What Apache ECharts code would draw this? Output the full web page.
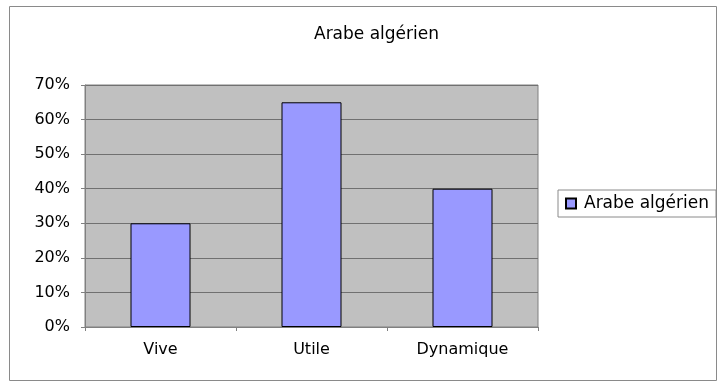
<!DOCTYPE html>
<html>
<head>
<meta charset="utf-8">
<script src="https://cdn.jsdelivr.net/npm/echarts@6/dist/echarts.min.js"></script>
<style>
  html, body { margin: 0; padding: 0; background: #fff; }
  #chart { width: 720px; height: 383px; }
</style>
</head>
<body>
<div id="chart"></div>
<script>
// Chart content
const chartTitle = 'Arabe algérien';
const seriesName = 'Arabe algérien';
const categories = ['Vive', 'Utile', 'Dynamique'];
const values = [0.30, 0.65, 0.40];
const yTicks = { min: 0, max: 0.7, interval: 0.1 };

const FONT = 'DejaVu Sans';
const chart = echarts.init(document.getElementById('chart'), null, { renderer: 'canvas' });

chart.setOption({
  backgroundColor: '#ffffff',
  animation: false,
  textStyle: { fontFamily: FONT, color: '#000' },
  title: {
    text: chartTitle,
    left: 309,
    top: 21,
    textStyle: { fontFamily: FONT, fontSize: 17, fontWeight: 'normal', color: '#000' }
  },
  graphic: [{
    type: 'rect',
    shape: { x: 9.5, y: 6.5, width: 707, height: 374 },
    style: { fill: 'none', stroke: '#8a8a8a', lineWidth: 1 },
    silent: true,
    z: 0
  }],
  legend: {
    left: 558,
    top: 190,
    orient: 'vertical',
    data: [{ name: seriesName, icon: 'rect' }],
    itemWidth: 10,
    itemHeight: 10,
    itemGap: 5,
    padding: [5, 7, 5, 7],
    borderColor: '#8a8a8a',
    borderWidth: 1,
    backgroundColor: '#fff',
    textStyle: { fontFamily: FONT, fontSize: 17, color: '#000', padding: [0, 0, 0, 3] }
  },
  grid: {
    left: 85,
    right: 182,
    top: 85,
    bottom: 56,
    show: true,
    backgroundColor: '#c0c0c0',
    borderColor: '#808080',
    borderWidth: 1,
    containLabel: false
  },
  xAxis: {
    type: 'category',
    data: categories,
    axisLine: { show: true, lineStyle: { color: '#808080', width: 1 } },
    axisTick: { show: true, alignWithLabel: false, length: 4, lineStyle: { color: '#808080' } },
    axisLabel: { margin: 15, fontFamily: FONT, fontSize: 16, color: '#000' },
    splitLine: { show: false }
  },
  yAxis: {
    type: 'value',
    min: yTicks.min,
    max: yTicks.max,
    interval: yTicks.interval,
    axisLine: { show: true, lineStyle: { color: '#808080', width: 1 } },
    axisTick: { show: true, length: 4, lineStyle: { color: '#808080' } },
    axisLabel: {
      margin: 15,
      fontFamily: FONT,
      fontSize: 16,
      color: '#000',
      formatter: v => Math.round(v * 100) + '%'
    },
    splitLine: { show: true, lineStyle: { color: '#707070', width: 1 } }
  },
  series: [{
    name: seriesName,
    type: 'bar',
    data: values,
    barWidth: 60,
    itemStyle: { color: '#9999ff', borderColor: '#000', borderWidth: 1 }
  }]
});
</script>
</body>
</html>
